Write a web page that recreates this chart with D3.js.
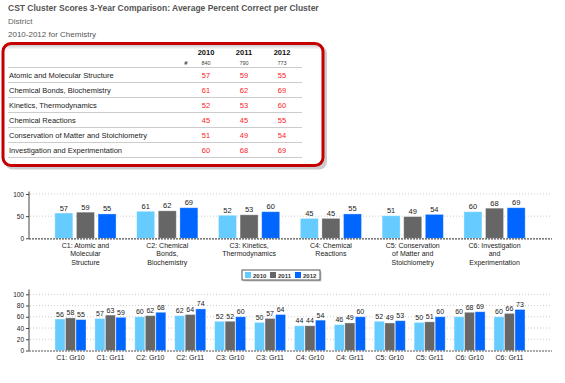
<!DOCTYPE html>
<html lang="en">
<head>
<meta charset="UTF-8">
<title>CST Cluster Scores</title>
<script src="https://cdn.jsdelivr.net/npm/d3@7"></script>
<style>
    body { margin: 0; background: #fff; }
    text { font-family: "Liberation Sans", Arial, sans-serif; }
    .axis-font { font-family: "DejaVu Sans Condensed", "DejaVu Sans", sans-serif; font-stretch: condensed; }
</style>
</head>
<body>
<script>
    // data
    const years = ["2010", "2011", "2012"];
    const counts = [840, 790, 773];
    const clusters = [
        "Atomic and Molecular Structure",
        "Chemical Bonds, Biochemistry",
        "Kinetics, Thermodynamics",
        "Chemical Reactions",
        "Conservation of Matter and Stoichiometry",
        "Investigation and Experimentation"
    ];
    const clusterLabels = [
        ["C1: Atomic and", "Molecular", "Structure"],
        ["C2: Chemical", "Bonds,", "Biochemistry"],
        ["C3: Kinetics,", "Thermodynamics"],
        ["C4: Chemical", "Reactions"],
        ["C5: Conservation", "of Matter and", "Stoichiometry"],
        ["C6: Investigation", "and", "Experimentation"]
    ];
    const scores2010 = [57, 61, 52, 45, 51, 60];
    const scores2011 = [59, 62, 53, 45, 49, 68];
    const scores2012 = [55, 69, 60, 55, 54, 69];

    const gradeLabels = ["C1: Gr10", "C1: Gr11", "C2: Gr10", "C2: Gr11", "C3: Gr10", "C3: Gr11",
        "C4: Gr10", "C4: Gr11", "C5: Gr10", "C5: Gr11", "C6: Gr10", "C6: Gr11"];
    const grade2010 = [56, 57, 60, 62, 52, 50, 44, 46, 52, 50, 60, 60];
    const grade2011 = [58, 63, 62, 64, 52, 57, 44, 49, 49, 51, 68, 66];
    const grade2012 = [55, 59, 68, 74, 60, 64, 54, 60, 53, 60, 69, 73];

    const colors = { "2010": "#66ccff", "2011": "#666666", "2012": "#0066ff" };

    const width = 565, height = 383;
    const svg = d3.select("body").append("svg").attr("width", width).attr("height", height);

    // header texts
    svg.append("text").attr("x", 8).attr("y", 11).attr("font-size", 8.5).attr("font-weight", "bold")
        .attr("fill", "#555").text("CST Cluster Scores 3-Year Comparison: Average Percent Correct per Cluster");
    svg.append("text").attr("x", 8).attr("y", 24).attr("font-size", 8).attr("fill", "#666").text("District");
    svg.append("text").attr("x", 8).attr("y", 36.5).attr("font-size", 8).attr("fill", "#555").text("2010-2012 for Chemistry");

    // red box with shadow
    const defs = svg.append("defs");
    const grad = defs.append("linearGradient").attr("id", "inshade").attr("x1", 0).attr("x2", 0).attr("y1", 0).attr("y2", 1);
    grad.append("stop").attr("offset", 0).attr("stop-color", "#bbb");
    grad.append("stop").attr("offset", 0.05).attr("stop-color", "#fff");
    grad.append("stop").attr("offset", 1).attr("stop-color", "#fff");
    svg.append("rect").attr("x", 5).attr("y", 45.5).attr("width", 322).attr("height", 124).attr("rx", 8)
        .attr("fill", "#aaa").attr("opacity", 0.6);
    svg.append("rect").attr("x", 3).attr("y", 43.5).attr("width", 320).attr("height", 122).attr("rx", 8)
        .attr("fill", "url(#inshade)").attr("stroke", "#c40000").attr("stroke-width", 3);

    // table
    const colX = d3.scalePoint().domain(years).range([206, 282]);
    const rowY = d3.scaleBand().domain(clusters).range([67.5, 157.5]);
    const table = svg.append("g");
    table.selectAll("text.yr").data(years).enter().append("text")
        .attr("x", d => colX(d)).attr("y", 54.5).attr("text-anchor", "middle")
        .attr("font-size", 7.5).attr("font-weight", "bold").attr("fill", "#111").text(d => d);
    table.append("text").attr("x", 186).attr("y", 65).attr("text-anchor", "middle")
        .attr("font-size", 6).attr("font-weight", "bold").attr("fill", "#333").text("#");
    table.selectAll("text.cnt").data(counts).enter().append("text")
        .attr("x", (d, i) => colX(years[i])).attr("y", 65).attr("text-anchor", "middle")
        .attr("font-size", 5.5).attr("fill", "#444").text(d => d);
    table.selectAll("line").data([67.5].concat(clusters.map(c => rowY(c) + rowY.bandwidth()))).enter()
        .append("line").attr("x1", 8).attr("x2", 302).attr("y1", d => d).attr("y2", d => d)
        .attr("stroke", "#ccc").attr("stroke-width", 1.2);
    table.selectAll("text.lbl").data(clusters).enter().append("text")
        .attr("x", 9).attr("y", d => rowY(d) + rowY.bandwidth() / 2 + 2.8)
        .attr("font-size", 7.5).attr("fill", "#222").text(d => d);
    [scores2010, scores2011, scores2012].forEach((vals, j) => {
        table.selectAll("text.v" + j).data(vals).enter().append("text")
            .attr("x", colX(years[j])).attr("y", (d, i) => rowY(clusters[i]) + rowY.bandwidth() / 2 + 2.8)
            .attr("text-anchor", "middle").attr("font-size", 7.5).attr("fill", "#ff2222").text(d => d);
    });

    // bar chart helper
    function barChart(opt) {
        const g = svg.append("g").attr("class", "axis-font");
        const x0 = d3.scaleBand().domain(opt.cats).range([29, 551]).paddingOuter(opt.outer).paddingInner(0);
        const x1 = d3.scaleBand().domain(years).range([0, x0.bandwidth()])
            .paddingInner(opt.inner).paddingOuter(opt.innerOuter);
        const y = d3.scaleLinear().domain([0, 100]).range([opt.y0, opt.y100]);

        // grid
        g.selectAll("line.grid").data(opt.ticks.filter(t => t > 0)).enter().append("line")
            .attr("x1", 30).attr("x2", 551).attr("y1", d => y(d)).attr("y2", d => y(d))
            .attr("stroke", "#ccc").attr("stroke-dasharray", "1,2");

        const series = [opt.s2010, opt.s2011, opt.s2012];
        series.forEach((vals, j) => {
            const yr = years[j];
            g.selectAll("rect.s" + j).data(vals).enter().append("rect")
                .attr("x", (d, i) => x0(opt.cats[i]) + x1(yr))
                .attr("y", d => y(d))
                .attr("width", x1.bandwidth())
                .attr("height", d => y(0) - y(d))
                .attr("fill", colors[yr])
                .attr("stroke", "rgba(255,255,255,0.4)").attr("stroke-width", 0.8);
            g.selectAll("text.s" + j).data(vals).enter().append("text")
                .attr("x", (d, i) => x0(opt.cats[i]) + x1(yr) + x1.bandwidth() / 2)
                .attr("y", d => y(d) - 2.5)
                .attr("text-anchor", "middle").attr("font-size", opt.valSize).attr("fill", "#222").text(d => d);
        });

        // y axis
        const yAxis = d3.axisLeft(y).tickValues(opt.ticks).tickSize(3).tickPadding(2);
        const ya = g.append("g").attr("transform", "translate(29,0)").call(yAxis);
        ya.select(".domain").attr("d", `M0,${opt.yTop}V${opt.y0}`).attr("stroke", "#444");
        ya.selectAll(".tick line").attr("stroke", "#444");
        ya.selectAll(".tick text").attr("font-size", 6.5).attr("fill", "#222")
            .attr("font-family", "DejaVu Sans Condensed, DejaVu Sans, sans-serif");

        // x axis line
        g.append("line").attr("x1", 29).attr("x2", 552).attr("y1", opt.y0 + 0.5).attr("y2", opt.y0 + 0.5)
            .attr("stroke", "#555").attr("stroke-width", 1.2).attr("stroke-dasharray", "2,1");

        // category labels
        const lab = g.selectAll("text.cat").data(opt.cats).enter().append("text")
            .attr("x", d => x0(d) + x0.bandwidth() / 2).attr("y", opt.labelY)
            .attr("text-anchor", "middle").attr("font-size", 7).attr("fill", "#222");
        lab.each(function (d, i) {
            const lines = opt.lines[i];
            d3.select(this).selectAll("tspan").data(lines).enter().append("tspan")
                .attr("x", x0(d) + x0.bandwidth() / 2).attr("dy", (l, k) => k === 0 ? 0 : 8.5).text(l => l);
        });
    }

    barChart({
        cats: clusters, lines: clusterLabels, s2010: scores2010, s2011: scores2011, s2012: scores2012,
        outer: 0.19, inner: 0.167, innerOuter: 0.477, y0: 238.3, y100: 194, yTop: 191.5,
        ticks: [0, 50, 100], labelY: 247.5, valSize: 7.5
    });

    barChart({
        cats: gradeLabels, lines: gradeLabels.map(l => [l]), s2010: grade2010, s2011: grade2011, s2012: grade2012,
        outer: 0.54, inner: 0.048, innerOuter: 0.424, y0: 350.5, y100: 294.3, yTop: 289.5,
        ticks: [0, 20, 40, 60, 80, 100], labelY: 360, valSize: 7
    });

    // legend
    const leg = svg.append("g").attr("class", "axis-font");
    leg.append("rect").attr("x", 243.5).attr("y", 271.5).attr("width", 78).attr("height", 10)
        .attr("fill", "#999").attr("opacity", 0.5);
    leg.append("rect").attr("x", 242).attr("y", 270).attr("width", 78).attr("height", 10)
        .attr("fill", "#fff").attr("stroke", "#555").attr("stroke-width", 1);
    const legX = d3.scalePoint().domain(years).range([245, 295]);
    leg.selectAll("rect.sw").data(years).enter().append("rect")
        .attr("x", d => legX(d)).attr("y", 272).attr("width", 6).attr("height", 6).attr("fill", d => colors[d]);
    leg.selectAll("text").data(years).enter().append("text")
        .attr("x", d => legX(d) + 8).attr("y", 277.8).attr("font-size", 6).attr("font-weight", "bold")
        .attr("fill", "#333").text(d => d);
</script>
</body>
</html>
